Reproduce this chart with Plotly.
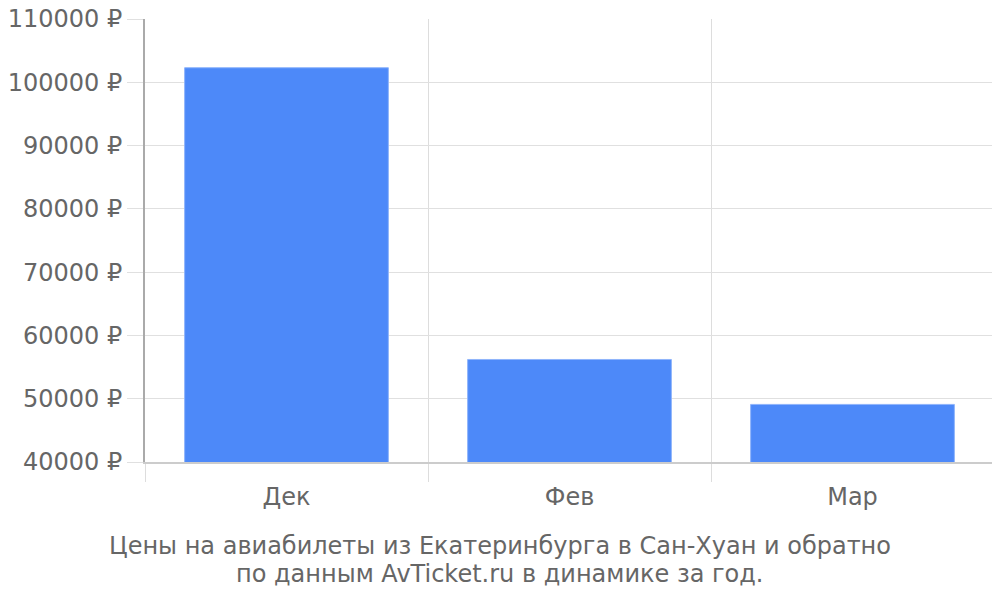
import plotly.graph_objects as go

months = ['Дек', 'Фев', 'Мар']
prices = [102300, 56200, 49100]
title_lines = ['Цены на авиабилеты из Екатеринбурга в Сан-Хуан и обратно',
               'по данным AvTicket.ru в динамике за год.']

FONT = 'DejaVu Sans'
TEXT_COLOR = '#666666'
FS = 24

fig = go.Figure()
fig.add_trace(go.Bar(
    x=list(range(len(months))),
    y=prices,
    marker=dict(color='#4d89f9', line=dict(color='#8fb4fb', width=1)),
    width=0.72,
    hoverinfo='y',
))

# page body adds ~8px offset, so margins are shifted to compensate
fig.update_layout(
    width=1000, height=600,
    margin=dict(l=137, r=14, t=11, b=146),
    plot_bgcolor='white', paper_bgcolor='white',
    font=dict(family=FONT, size=FS, color=TEXT_COLOR),
    showlegend=False,
    xaxis=dict(
        range=[-0.5, len(months) - 0.5],
        tickmode='array', tickvals=list(range(len(months))), ticktext=months,
        ticks='', showgrid=False, automargin=False,
        showline=True, linecolor='#cccccc', linewidth=2,
        minor=dict(tickmode='array', tickvals=[i - 0.5 for i in range(len(months) + 1)],
                   ticks='outside', ticklen=18, tickcolor='#dddddd', tickwidth=1,
                   showgrid=True, gridcolor='#dddddd', gridwidth=1),
        tickfont=dict(size=FS, color=TEXT_COLOR), ticklabelstandoff=12,
        zeroline=False, fixedrange=True,
    ),
    yaxis=dict(
        range=[40000, 110000], dtick=10000, tick0=40000,
        ticksuffix=' ₽', tickformat='d', automargin=False,
        ticklabeloverflow='allow',
        ticks='outside', ticklen=16, tickcolor='#e0e0e0',
        showgrid=True, gridcolor='#e0e0e0', gridwidth=1,
        showline=True, linecolor='#aaaaaa', linewidth=2,
        zeroline=False, tickfont=dict(size=FS, color=TEXT_COLOR),
        fixedrange=True,
    ),
    annotations=[
        dict(text=line, showarrow=False, xref='paper', yref='paper',
             x=0.418, y=yy, yanchor='middle', xanchor='center',
             font=dict(family=FONT, size=FS, color=TEXT_COLOR))
        for line, yy in zip(title_lines, [-0.19, -0.252])
    ],
)

fig.write_html('out.html')
